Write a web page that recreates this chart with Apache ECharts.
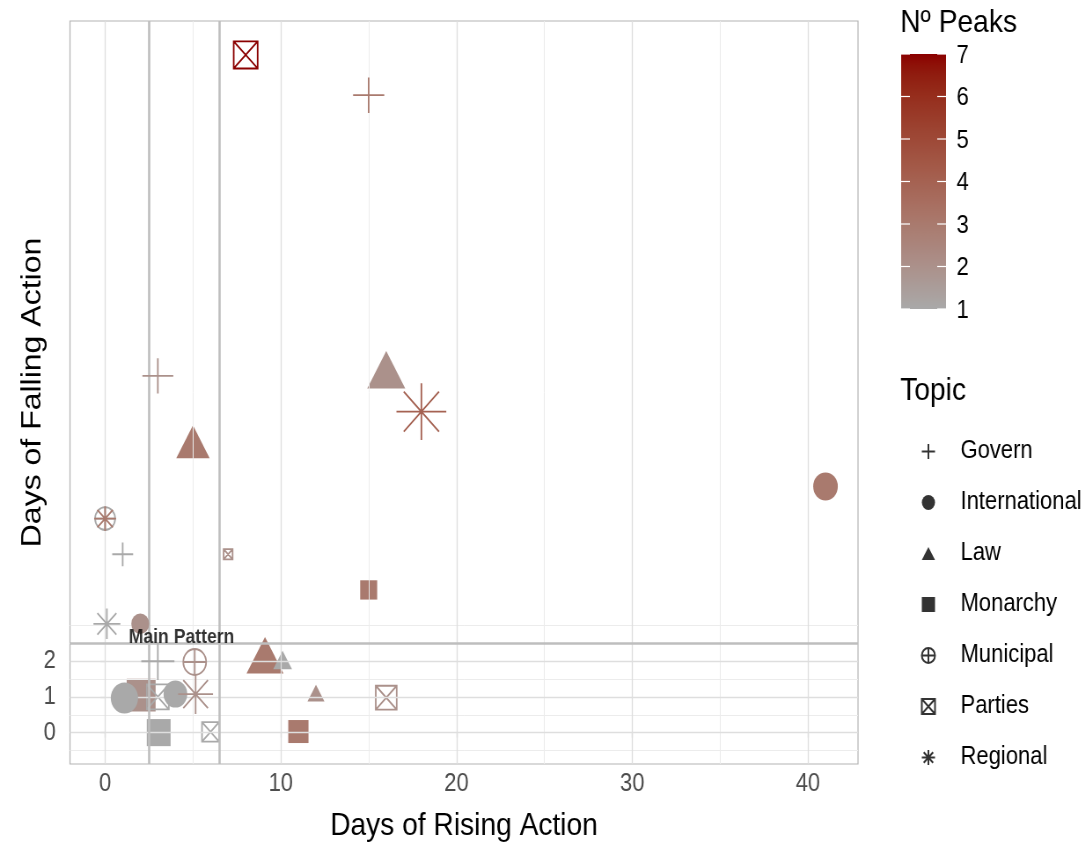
<!DOCTYPE html>
<html><head><meta charset="utf-8">
<script src="https://cdn.jsdelivr.net/npm/echarts@6/dist/echarts.min.js"></script>
<style>
html,body{margin:0;padding:0;overflow:hidden;background:#fff;width:1087px;height:844px}
#wrap{width:1087px;height:844px;overflow:hidden}
#chart{width:1235px;height:844px;transform:scaleX(0.88);transform-origin:0 0}
</style>
</head><body><div id="wrap"><div id="chart"></div></div>
<script>
// ---------------- data ----------------
const topics = ['Govern','International','Law','Monarchy','Municipal','Parties','Regional'];
const pointTopic = ['Parties','Govern','Govern','Law','Regional','Law','International','Municipal','Regional','Govern',
  'Parties','Monarchy','Regional','International','Govern','Municipal','Law','Law','Law','Parties',
  'Monarchy','International','Parties','International','Regional','Monarchy','Parties','Monarchy'];
const risingDays = [8,15,3,16,18,5,41,0,0,1,
  7,15,0.1,2,3,5.1,9.1,10.1,12,16,
  2.05,1.1,3,4,5.15,3.05,6,11];
const fallingDays = [19,17.87,10,10,9,8,6.9,6,6,5,
  5,4,3.05,3.05,2.0,1.98,2.0,1.95,1.03,0.98,
  1.05,0.97,1,1.08,1.08,0,0.02,0.03];
const peaks = [7,3,2,2,4,3,3,1,3,1,
  2,3,1,2,1,2,3,1,2,2,
  2,1,1,1,2,1,1,3];
const magnitude = [13.6,12.5,12.4,13.9,20,12.2,14,11.4,8.8,8.4,
  5.1,10.9,10.8,10.2,13.3,13,13.5,6.9,6.2,11.9,
  18.6,15.5,12.5,13.5,14,15.3,9.7,13];
const xTicks = [0,10,20,30,40];
const xMinor = [5,15,25,35];
const yTicks = [0,1,2];
const yMinor = [-0.5,0.5,1.5,2.5,3];
const peakTicks = [1,2,3,4,5,6,7];
const patternX = [2.5,6.5];
const patternY = [2.5];

// ---------------- colour scale (CIELAB ramp darkgray -> darkred) ----------------
function hex2rgb(h){return [1,3,5].map(i=>parseInt(h.substr(i,2),16));}
function lin(c){c/=255;return c<=0.04045?c/12.92:Math.pow((c+0.055)/1.055,2.4);}
function delin(c){c=c<=0.0031308?12.92*c:1.055*Math.pow(c,1/2.4)-0.055;return Math.max(0,Math.min(255,Math.round(c*255)));}
const Xn=0.95047,Yn=1,Zn=1.08883;
function f(t){return t>0.008856?Math.cbrt(t):7.787*t+16/116;}
function finv(t){return t>0.206893?t*t*t:(t-16/116)/7.787;}
function rgb2lab(rgb){const [R,G,B]=rgb.map(lin);
  const X=0.4124*R+0.3576*G+0.1805*B,Y=0.2126*R+0.7152*G+0.0722*B,Z=0.0193*R+0.1192*G+0.9505*B;
  const fx=f(X/Xn),fy=f(Y/Yn),fz=f(Z/Zn);return [116*fy-16,500*(fx-fy),200*(fy-fz)];}
function lab2rgb(lab){const fy=(lab[0]+16)/116,fx=fy+lab[1]/500,fz=fy-lab[2]/200;
  const X=Xn*finv(fx),Y=Yn*finv(fy),Z=Zn*finv(fz);
  const R=3.2406*X-1.5372*Y-0.4986*Z,G=-0.9689*X+1.8758*Y+0.0415*Z,B=0.0557*X-0.2040*Y+1.0570*Z;
  return 'rgb('+[R,G,B].map(delin).join(',')+')';}
const LOW=rgb2lab(hex2rgb('#A9A9A9')),HIGH=rgb2lab(hex2rgb('#8B0000'));
function peakColor(v){const t=(v-1)/6;return lab2rgb(LOW.map((l,i)=>l+(HIGH[i]-l)*t));}

// ---------------- shapes ----------------
const SHAPES = {
  Govern:{symbol:'path://M-1,0L1,0M0,-1L0,1',filled:false,w:2.83,h:2.83},
  International:{symbol:'circle',filled:true,w:2,h:2},
  Law:{symbol:'path://M0,-1.1547L1,0.5774L-1,0.5774Z',filled:true,w:3.11,h:2.693,offset:[0,'-16.7%']},
  Monarchy:{symbol:'rect',filled:true,w:1.77,h:1.77},
  Municipal:{symbol:'path://M-1,0A1,1 0 1,1 1,0A1,1 0 1,1 -1,0ZM-1,0L1,0M0,-1L0,1',filled:false,w:2,h:2},
  Parties:{symbol:'path://M-1,-1L1,-1L1,1L-1,1ZM-1,-1L1,1M-1,1L1,-1',filled:false,w:2,h:2},
  Regional:{symbol:'path://M-1.4142,0L1.4142,0M0,-1.4142L0,1.4142M-1,-1L1,1M-1,1L1,-1',filled:false,w:2.83,h:2.83}
};
const ZORDER = {Monarchy:2,Parties:3,Law:4,International:5,Govern:6,Municipal:6,Regional:7};

function styleFor(col,filled){
  return filled?{color:col,borderWidth:0,opacity:1}:{color:'none',borderColor:col,borderWidth:1.8,opacity:1};
}

const pointSeries = topics.map(tp=>{
  const sh=SHAPES[tp];
  const data=[];
  pointTopic.forEach((t,i)=>{
    if(t!==tp) return;
    data.push({value:[risingDays[i],fallingDays[i],peaks[i]],
      symbolSize:[sh.w*magnitude[i],sh.h*magnitude[i]],
      itemStyle:styleFor(peakColor(peaks[i]),sh.filled)});
  });
  return {type:'scatter',name:tp,symbol:sh.symbol,symbolOffset:sh.offset||[0,0],
    z:ZORDER[tp],data:data,emphasis:{disabled:true},animation:false};
});

const gridLineSeries = {type:'line',data:[],z:1,silent:true,animation:false,
  markLine:{silent:true,symbol:['none','none'],label:{show:false},animation:false,
    data:[].concat(
      xMinor.map(v=>({xAxis:v,lineStyle:{color:'#ececec',width:1,type:'solid'}})),
      yMinor.map(v=>({yAxis:v,lineStyle:{color:'#ececec',width:1,type:'solid'}})),
      xTicks.map(v=>({xAxis:v,lineStyle:{color:'#dedede',width:1.3,type:'solid'}})),
      yTicks.map(v=>({yAxis:v,lineStyle:{color:'#dedede',width:1.3,type:'solid'}}))
    )}};

const patternSeries = {type:'line',data:[],z:8,silent:true,animation:false,
  markLine:{silent:true,symbol:['none','none'],label:{show:false},animation:false,
    data:[].concat(
      patternX.map(v=>({xAxis:v,lineStyle:{color:'#bebebe',width:2.6,type:'solid'}})),
      patternY.map(v=>({yAxis:v,lineStyle:{color:'#bebebe',width:2.6,type:'solid'}}))
    )}};

const labelSeries = {type:'scatter',z:9,silent:true,animation:false,symbolSize:0,
  data:[{value:[4.35,2.5],label:{show:true,position:'top',distance:-4,formatter:'Main Pattern',
    fontFamily:'Liberation Sans',fontWeight:'bold',fontSize:20,color:'#000'}}]};

// ---------------- colour bar (graphic) ----------------
const CB={x:1024,y:54,w:51,h:255};
const stops=[];for(let k=0;k<=24;k++){const v=7-6*k/24;stops.push({offset:k/24,color:peakColor(v)});}
const cbGraphic=[
  {type:'text',left:1023,top:7,style:{text:'Nº Peaks',fontSize:32,fontFamily:'Liberation Sans',fill:'#000'}},
  {type:'rect',shape:{x:CB.x,y:CB.y,width:CB.w,height:CB.h},style:{fill:new echarts.graphic.LinearGradient(0,0,0,1,stops)}},
  {type:'text',left:1023,top:375,style:{text:'Topic',fontSize:32,fontFamily:'Liberation Sans',fill:'#000'}}
];
peakTicks.forEach(v=>{
  const y=CB.y+CB.h*(7-v)/6;
  cbGraphic.push({type:'line',shape:{x1:CB.x,y1:y,x2:CB.x+10,y2:y},style:{stroke:'#fff',lineWidth:1.2}});
  cbGraphic.push({type:'line',shape:{x1:CB.x+CB.w-10,y1:y,x2:CB.x+CB.w,y2:y},style:{stroke:'#fff',lineWidth:1.2}});
  cbGraphic.push({type:'text',x:1087,y:y+2,style:{text:String(v),fontSize:25,fontFamily:'Liberation Sans',fill:'#000',verticalAlign:'middle',align:'left'}});
});

// topic legend rows (icons drawn by the legend component)
const legendData = topics.map(tp=>{
  const sh=SHAPES[tp];
  return {name:tp,icon:sh.symbol,itemStyle:sh.filled?{color:'#000',borderWidth:0}:{color:'none',borderColor:'#000',borderWidth:2}};
});

const chart = echarts.init(document.getElementById('chart'),null,{renderer:'canvas'});
chart.setOption({
  backgroundColor:'#fff',
  animation:false,
  textStyle:{fontFamily:'Liberation Sans'},
  grid:{left:79.5,right:260,top:21,bottom:80,containLabel:false,outerBoundsMode:'none',
    show:true,borderColor:'#b3b3b3',borderWidth:1.2,backgroundColor:'#fff'},
  xAxis:{type:'value',min:-2,max:42.85,
    name:'Days of Rising Action',nameLocation:'middle',nameGap:46,nameMoveOverlap:false,
    nameTextStyle:{fontSize:32,color:'#000',fontFamily:'Liberation Sans'},
    axisLine:{show:false},splitLine:{show:false},
    axisTick:{show:true,customValues:xTicks,length:5,lineStyle:{color:'#b3b3b3',width:1.2}},
    axisLabel:{customValues:xTicks,fontSize:25,color:'#4d4d4d',margin:8,fontFamily:'Liberation Sans'}},
  yAxis:{type:'value',min:-0.88,max:19.95,
    name:'Days of Falling Action',nameLocation:'middle',nameGap:26,nameMoveOverlap:false,
    nameTextStyle:{fontSize:32,color:'#000',fontFamily:'Liberation Sans'},
    axisLine:{show:false},splitLine:{show:false},
    axisTick:{show:true,customValues:yTicks,length:5,lineStyle:{color:'#b3b3b3',width:1.2}},
    axisLabel:{customValues:yTicks,fontSize:25,color:'#4d4d4d',margin:16,fontFamily:'Liberation Sans'}},
  legend:{orient:'vertical',left:1040,top:434,itemWidth:15,itemHeight:15,itemGap:26,
    selectedMode:false,data:legendData,
    textStyle:{fontSize:25,color:'#000',fontFamily:'Liberation Sans',padding:[0,0,0,24]}},
  graphic:cbGraphic,
  series:[gridLineSeries].concat(pointSeries,[patternSeries,labelSeries])
});
</script></body></html>
